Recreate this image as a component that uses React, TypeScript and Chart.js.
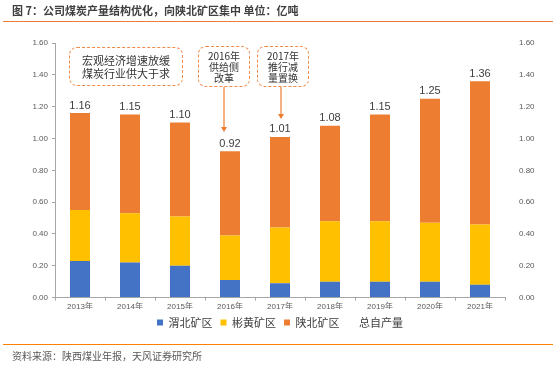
import React, { useEffect, useRef } from 'react';
import { Chart, registerables } from 'chart.js';

Chart.register(...registerables);

const years = ['2013年', '2014年', '2015年', '2016年', '2017年', '2018年', '2019年', '2020年', '2021年'];
const weibei = [0.23, 0.22, 0.2, 0.11, 0.09, 0.1, 0.1, 0.1, 0.08];
const binhuang = [0.32, 0.31, 0.31, 0.28, 0.35, 0.38, 0.38, 0.37, 0.38];
const shanbei = [0.61, 0.62, 0.59, 0.53, 0.57, 0.6, 0.67, 0.78, 0.9];
const totals = [1.16, 1.15, 1.1, 0.92, 1.01, 1.08, 1.15, 1.25, 1.36];
const seriesNames = ['渭北矿区', '彬黄矿区', '陕北矿区', '总自产量'];

const NUM_FONT = '"Liberation Sans", "Noto Sans CJK SC", sans-serif';
const CJK_FONT = '"Noto Sans CJK SC", "Liberation Sans", sans-serif';
const AXIS_COLOR = '#A6A6A6';
const TICK_COLOR = '#595959';

const totalLabels = {
  id: 'totalLabels',
  afterDatasetsDraw(chart: any) {
    const ctx = chart.ctx;
    const meta = chart.getDatasetMeta(3);
    ctx.save();
    ctx.font = '11px ' + NUM_FONT;
    ctx.fillStyle = '#404040';
    ctx.textAlign = 'center';
    ctx.textBaseline = 'bottom';
    meta.data.forEach((pt: any, i: number) => {
      ctx.fillText(totals[i].toFixed(2), pt.x, pt.y - 2);
    });
    ctx.restore();
  },
};

export default function App() {
  const ref = useRef<HTMLCanvasElement | null>(null);

  useEffect(() => {
    if (!ref.current) return;
    const fmt = (v: any) => Number(v).toFixed(2);
    const chart = new Chart(ref.current, {
      type: 'bar',
      data: {
        labels: years,
        datasets: [
          { label: seriesNames[0], data: weibei, backgroundColor: '#4472C4', stack: 's', categoryPercentage: 0.8, barPercentage: 0.5 },
          { label: seriesNames[1], data: binhuang, backgroundColor: '#FFC000', stack: 's', categoryPercentage: 0.8, barPercentage: 0.5 },
          { label: seriesNames[2], data: shanbei, backgroundColor: '#ED7D31', stack: 's', categoryPercentage: 0.8, barPercentage: 0.5 },
          {
            type: 'line',
            label: seriesNames[3],
            data: totals,
            yAxisID: 'y2',
            showLine: false,
            pointRadius: 0,
            borderColor: 'rgba(0,0,0,0)',
            backgroundColor: 'rgba(0,0,0,0)',
          } as any,
        ],
      },
      options: {
        responsive: false,
        animation: false,
        layout: { padding: { top: 43, bottom: 31, left: 0, right: 0 } },
        plugins: {
          tooltip: { enabled: false },
          legend: {
            position: 'bottom',
            labels: {
              boxWidth: 6,
              boxHeight: 6,
              padding: 8,
              color: '#404040',
              font: { size: 11, family: CJK_FONT },
              generateLabels: (c: any) => {
                const items = Chart.defaults.plugins.legend.labels.generateLabels(c);
                return items.map((it: any, i: number) =>
                  i === 3 ? { ...it, fillStyle: 'rgba(0,0,0,0)', strokeStyle: 'rgba(0,0,0,0)', lineWidth: 0 } : { ...it, lineWidth: 0 }
                );
              },
            },
          },
        },
        scales: {
          x: {
            stacked: true,
            grid: { drawOnChartArea: false, offset: true, tickLength: 3, color: AXIS_COLOR },
            border: { color: AXIS_COLOR },
            ticks: { font: { size: 8, family: NUM_FONT }, color: TICK_COLOR, padding: 1, maxRotation: 0, autoSkip: false },
            afterFit: (s: any) => { s.height = 11.4; },
          },
          y: {
            stacked: true,
            min: 0,
            max: 1.6,
            grid: { drawOnChartArea: false, tickLength: 3, color: AXIS_COLOR },
            border: { color: AXIS_COLOR },
            ticks: { stepSize: 0.2, callback: fmt, font: { size: 8, family: NUM_FONT }, color: TICK_COLOR, padding: 4 },
            afterFit: (s: any) => { s.width = 55; },
          },
          y2: {
            position: 'right',
            min: 0,
            max: 1.6,
            grid: { display: false },
            border: { display: false },
            ticks: { stepSize: 0.2, callback: fmt, font: { size: 8, family: NUM_FONT }, color: TICK_COLOR, padding: 6 },
            afterFit: (s: any) => { s.width = 55; },
          },
        },
      },
      plugins: [totalLabels],
    } as any);
    return () => chart.destroy();
  }, []);

  const boxBase: React.CSSProperties = {
    position: 'absolute',
    boxSizing: 'border-box',
    border: '1px dashed #F0894A',
    borderRadius: 8,
    display: 'flex',
    alignItems: 'center',
    justifyContent: 'center',
    textAlign: 'center',
    color: '#333333',
    fontFamily: CJK_FONT,
    background: 'transparent',
  };

  return (
    <div style={{ position: 'absolute', left: 0, top: 0, width: 560, height: 369, background: '#ffffff', overflow: 'hidden' }}>
      <canvas ref={ref} width={560} height={369} style={{ position: 'absolute', left: 0, top: 0, width: 560, height: 369 }} />
      <div style={{ position: 'absolute', left: 12, top: 3, fontFamily: CJK_FONT, fontWeight: 700, fontSize: 11, lineHeight: '14px', color: '#3F3F3F', whiteSpace: 'nowrap' }}>
        图 7：公司煤炭产量结构优化，向陕北矿区集中 单位：亿吨
      </div>
      <div style={{ position: 'absolute', left: 3, top: 21, width: 550, height: 1, background: '#ED7D31' }} />
      <div style={{ position: 'absolute', left: 3, top: 344, width: 550, height: 1, background: '#FF8000' }} />
      <div style={{ position: 'absolute', left: 12, top: 349, fontFamily: CJK_FONT, fontSize: 10, lineHeight: '14px', color: '#595959', whiteSpace: 'nowrap' }}>
        资料来源：陕西煤业年报，天风证券研究所
      </div>
      <div style={{ ...boxBase, left: 69, top: 47, width: 114, height: 39, fontSize: 11, lineHeight: '13px' }}>
        宏观经济增速放缓<br />煤炭行业供大于求
      </div>
      <div style={{ ...boxBase, left: 198, top: 46, width: 52, height: 41, fontSize: 10, lineHeight: '11px' }}>
        2016年<br />供给侧<br />改革
      </div>
      <div style={{ ...boxBase, left: 257, top: 46, width: 52, height: 41, fontSize: 10, lineHeight: '11px' }}>
        2017年<br />推行减<br />量置换
      </div>
      <svg width={560} height={369} style={{ position: 'absolute', left: 0, top: 0, pointerEvents: 'none' }}>
        <line x1={224} y1={87} x2={224} y2={128} stroke="#ED7D31" strokeWidth={1.2} />
        <polygon points="221,127 227,127 224,132" fill="#ED7D31" />
        <line x1={281} y1={87} x2={281} y2={115} stroke="#ED7D31" strokeWidth={1.2} />
        <polygon points="278,114 284,114 281,119" fill="#ED7D31" />
      </svg>
    </div>
  );
}
